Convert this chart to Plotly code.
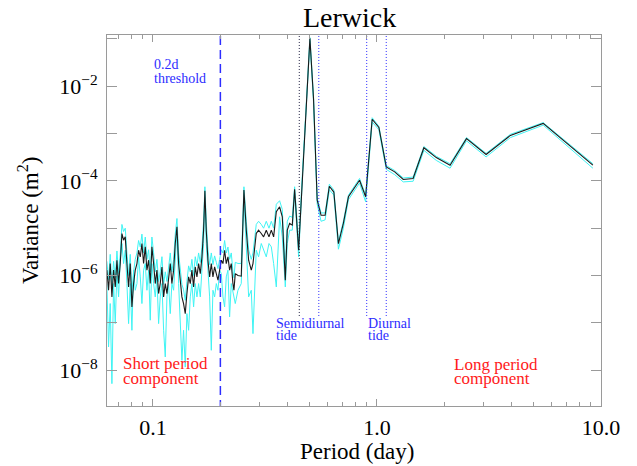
import plotly.graph_objects as go

# ---------------- data ----------------
period = [
    0.06229, 0.06338, 0.06447, 0.06561, 0.06674, 0.06789, 0.06908, 0.07026, 0.07148, 0.07272,
    0.07396, 0.07525, 0.07654, 0.07787, 0.07921, 0.08057, 0.08198, 0.08339, 0.08484, 0.08630,
    0.08780, 0.08931, 0.09085, 0.09243, 0.09402, 0.09565, 0.09730, 0.09897, 0.1007, 0.1024,
    0.1042, 0.1060, 0.1078, 0.1097, 0.1116, 0.1135, 0.1155, 0.1174, 0.1195, 0.1215,
    0.1237, 0.1258, 0.1280, 0.1302, 0.1324, 0.1347, 0.1370, 0.1394, 0.1418, 0.1443,
    0.1468, 0.1493, 0.1519, 0.1545, 0.1572, 0.1599, 0.1627, 0.1655, 0.1683, 0.1706,
    0.1730, 0.1760, 0.1791, 0.1822, 0.1853, 0.1885, 0.1918, 0.1951, 0.1985, 0.2019,
    0.2054, 0.2089, 0.2125, 0.2162, 0.2199, 0.2237, 0.2276, 0.2299, 0.2331, 0.2396,
    0.2479, 0.2548, 0.2611, 0.2674, 0.2748, 0.2796, 0.2892, 0.2962, 0.3045, 0.3119,
    0.3206, 0.3296, 0.3376, 0.3458, 0.3554, 0.3677, 0.3779, 0.3898, 0.3978, 0.4075,
    0.4188, 0.4290, 0.4470,
    0.468, 0.484, 0.502, 0.521, 0.541, 0.563, 0.587, 0.613, 0.642, 0.673,
    0.708, 0.746, 0.789, 0.836, 0.890, 0.952, 1.02, 1.10, 1.20, 1.31,
    1.45, 1.62, 1.84, 2.12, 2.51, 3.07, 3.94, 5.52, 9.20,
]

variance = [
    1.30e-6, 4.89e-7, 1.79e-6, 3.54e-7, 1.30e-6, 5.75e-7, 2.11e-6, 6.77e-7, 1.79e-6, 7.72e-6,
    5.58e-6, 6.56e-6, 1.79e-6, 5.75e-7, 1.79e-6, 2.18e-7, 6.77e-7, 1.30e-6, 1.79e-6, 3.43e-6,
    2.48e-6, 4.75e-6, 1.79e-6, 4.04e-6, 1.30e-6, 2.11e-6, 6.77e-7, 4.04e-6, 1.79e-6, 6.77e-7,
    1.30e-6, 4.16e-7, 6.77e-7, 1.52e-6, 3.54e-7, 6.77e-7, 4.16e-7, 9.37e-7, 1.79e-6, 6.77e-7,
    1.30e-6, 4.75e-6, 1.07e-5, 1.79e-6, 6.77e-7, 3.54e-7, 2.56e-7, 1.57e-7, 4.16e-7, 9.37e-7,
    6.77e-7, 1.30e-6, 5.75e-7, 1.52e-6, 9.37e-7, 1.79e-6, 1.10e-6, 2.48e-6, 9.08e-6, 6.17e-5,
    9.08e-6, 2.11e-6, 9.37e-7, 1.79e-6, 9.37e-7, 1.52e-6, 1.10e-6, 7.96e-7, 1.30e-6, 2.11e-6,
    1.79e-6, 3.43e-6, 1.79e-6, 2.48e-6, 1.30e-6, 1.79e-6, 6.77e-7, 4.89e-7, 1.10e-6, 1.00e-6,
    9.70e-7, 6.37e-5, 9.08e-6, 2.11e-6, 1.30e-6, 1.79e-6, 7.72e-6, 9.08e-6, 7.72e-6, 6.56e-6,
    9.08e-6, 6.56e-6, 9.08e-6, 6.56e-6, 2.22e-5, 2.83e-5, 1.74e-5, 7.96e-7, 9.08e-6, 1.26e-5,
    1.16e-5, 6.60e-5, 3.43e-6,
    2.6e-4, 4.0e-3, 1.02e-1, 5.4e-3, 3.9e-5, 1.87e-5, 1.87e-5, 7.7e-5, 5.8e-5, 4.7e-6,
    1.26e-5, 4.6e-5, 6.9e-5, 1.03e-4, 4.6e-5, 2.0e-3, 1.34e-3, 1.97e-4, 1.55e-4, 1.07e-4,
    1.12e-4, 5.0e-4, 3.1e-4, 2.14e-4, 7.8e-4, 3.6e-4, 9.1e-4, 1.63e-3, 2.14e-4,
]

variance_part_a = [
    2.0e-6, 8.0e-7, 2.8e-6, 6.0e-7, 2.0e-6, 9.0e-7, 3.3e-6, 1.1e-6, 2.8e-6, 1.2e-5,
    8.5e-6, 1.0e-5, 3.0e-6, 1.0e-6, 2.8e-6, 4.2e-7, 1.2e-6, 2.2e-6, 3.0e-6, 5.5e-6,
    4.0e-6, 7.5e-6, 3.0e-6, 6.5e-6, 2.2e-6, 3.5e-6, 1.2e-6, 6.5e-6, 3.0e-6, 1.2e-6,
    2.2e-6, 7.5e-7, 1.2e-6, 2.5e-6, 6.5e-7, 1.2e-6, 7.5e-7, 1.6e-6, 3.0e-6, 1.2e-6,
    2.2e-6, 7.5e-6, 1.6e-5, 3.0e-6, 1.2e-6, 6.5e-7, 5.0e-7, 3.0e-7, 7.5e-7, 1.6e-6,
    1.2e-6, 2.2e-6, 1.0e-6, 2.5e-6, 1.6e-6, 3.0e-6, 1.9e-6, 4.0e-6, 1.4e-5, 7.5e-5,
    1.4e-5, 3.5e-6, 1.7e-6, 3.0e-6, 1.7e-6, 2.6e-6, 1.9e-6, 1.4e-6, 2.2e-6, 3.5e-6,
    3.0e-6, 5.5e-6, 3.0e-6, 4.0e-6, 2.2e-6, 3.0e-6, 1.2e-6, 9.0e-7, 1.9e-6, 1.8e-6,
    1.8e-6, 7.5e-5, 1.4e-5, 3.5e-6, 2.2e-6, 3.0e-6, 1.2e-5, 1.4e-5, 1.2e-5, 1.0e-5,
    1.4e-5, 1.0e-5, 1.4e-5, 1.0e-5, 3.2e-5, 3.8e-5, 2.5e-5, 1.4e-6, 1.4e-5, 1.8e-5,
    1.7e-5, 7.5e-5, 5.0e-6,
    2.9e-4, 4.4e-3, 1.06e-1, 6.0e-3, 4.3e-5, 2.1e-5, 2.1e-5, 8.5e-5, 6.4e-5, 5.2e-6,
    1.4e-5, 5.0e-5, 7.5e-5, 1.12e-4, 5.0e-5, 2.15e-3, 1.42e-3, 2.1e-4, 1.65e-4, 1.15e-4,
    1.2e-4, 5.3e-4, 3.3e-4, 2.3e-4, 8.2e-4, 3.8e-4, 9.6e-4, 1.7e-3, 2.3e-4,
]

variance_part_b = [
    6.77e-7, 3.10e-8, 2.56e-7, 5.21e-9, 6.77e-7, 9.66e-8, 1.30e-6, 3.54e-7, 2.11e-6, 4.75e-6,
    1.79e-6, 3.43e-6, 6.77e-7, 9.66e-8, 6.77e-7, 6.98e-8, 1.30e-6, 4.89e-7, 6.77e-7, 2.48e-6,
    9.37e-7, 2.56e-7, 1.30e-6, 1.79e-6, 4.89e-7, 1.30e-6, 1.14e-7, 1.79e-6, 6.77e-7, 3.54e-7,
    9.37e-7, 9.66e-8, 3.54e-7, 6.77e-7, 6.98e-8, 1.91e-8, 3.54e-7, 6.77e-7, 1.57e-7, 6.77e-7,
    4.89e-7, 2.48e-6, 9.08e-6, 6.77e-7, 1.34e-7, 1.62e-8, 6.98e-8, 1.17e-8, 1.57e-7, 6.98e-8,
    3.54e-7, 6.77e-7, 2.18e-7, 6.77e-7, 3.54e-7, 6.77e-7, 3.54e-7, 1.30e-6, 4.75e-6, 4.61e-5,
    4.75e-6, 1.30e-6, 3.54e-7, 2.64e-8, 4.89e-7, 3.54e-7, 6.77e-7, 4.89e-7, 1.30e-6, 1.10e-6,
    3.54e-7, 2.18e-7, 9.37e-7, 1.30e-6, 1.34e-7, 6.77e-7, 4.16e-7, 3.54e-7, 2.56e-7, 4.89e-7,
    6.77e-7, 4.61e-5, 4.75e-6, 3.54e-7, 4.89e-7, 5.94e-8, 3.43e-6, 2.48e-6, 4.75e-6, 3.43e-6,
    2.48e-6, 4.75e-6, 4.04e-6, 1.79e-6, 5.75e-7, 1.74e-5, 6.56e-6, 5.75e-7, 4.75e-6, 9.08e-6,
    9.08e-6, 5.42e-5, 2.48e-6,
    2.2e-4, 3.4e-3, 9.0e-2, 4.6e-3, 3.2e-5, 1.4e-5, 1.5e-5, 6.5e-5, 5.0e-5, 3.6e-6,
    1.0e-5, 4.0e-5, 6.0e-5, 9.0e-5, 3.6e-5, 1.75e-3, 1.2e-3, 1.75e-4, 1.35e-4, 9.5e-5,
    9.8e-5, 4.4e-4, 2.7e-4, 1.85e-4, 7.0e-4, 3.2e-4, 8.2e-4, 1.5e-3, 1.85e-4,
]

threshold_period = 0.2
semidiurnal_band = [0.45, 0.55]
diurnal_band = [0.90, 1.10]

x_tick_vals = [0.1, 1, 10]
x_tick_text = ["0.1", "1.0", "10.0"]
x_minor_vals = [0.07, 0.08, 0.09, 0.2, 0.3, 0.4, 0.5, 0.6, 0.7, 0.8, 0.9,
                2, 3, 4, 5, 6, 7, 8, 9]
y_tick_vals = [1e-8, 1e-6, 1e-4, 1e-2]
y_tick_text = ["10<sup>−8</sup>", "10<sup>−6</sup>", "10<sup>−4</sup>", "10<sup>−2</sup>"]
y_minor_vals = [1e-7, 1e-5, 1e-3, 1e-1]

# ---------------- figure ----------------
FONT = "Liberation Serif, Times New Roman, Times, DejaVu Serif, serif"
BLUE = "#2d2dff"
RED = "#ff1a1a"
AXC = "#9a9a9a"

fig = go.Figure()
for series in (variance_part_b, variance_part_a):
    fig.add_trace(go.Scatter(x=period, y=series, mode="lines",
                             line=dict(color="#3ff4f4", width=1), hoverinfo="skip"))
fig.add_trace(go.Scatter(x=period, y=variance, mode="lines",
                         line=dict(color="#1a1a1a", width=1.1), hoverinfo="skip"))

# threshold (dashed) line
fig.add_trace(go.Scatter(x=[threshold_period, threshold_period], y=[1e-10, 1],
                         mode="lines", line=dict(color=BLUE, width=1.5, dash="9px,5px"),
                         hoverinfo="skip"))
# tidal band lines (dotted)
tide_colors = ["#222244", BLUE, BLUE, BLUE]
for c, p in zip(tide_colors, semidiurnal_band + diurnal_band):
    fig.add_trace(go.Scatter(x=[p, p], y=[1.4e-7, 1], mode="lines",
                             line=dict(color=c, width=1, dash="1px,2px"),
                             hoverinfo="skip"))

L, R, T, B = 107, 36, 35, 60
W, H = 637, 466
pw, ph = W - L - R, H - T - B


def px(xp):
    return (xp - L) / pw


def py(yp):
    return (H - B - yp) / ph


annos = [
    ("0.2d", 153, 65, BLUE, 14),
    ("threshold", 153, 79, BLUE, 14),
    ("Semidiurnal", 275, 323, BLUE, 14),
    ("tide", 275, 335, BLUE, 14),
    ("Diurnal", 366.5, 323, BLUE, 14),
    ("tide", 366.5, 335, BLUE, 14),
    ("Short period", 122, 363, RED, 17),
    ("component", 122, 378, RED, 17),
    ("Long period", 452.5, 364, RED, 17),
    ("component", 452.5, 378, RED, 17),
]
annotations = []
for text, xp, yp, col, size in annos:
    annotations.append(dict(text=text, x=px(xp), y=py(yp), xref="paper", yref="paper",
                            xanchor="left", yanchor="middle", showarrow=False,
                            borderpad=0, font=dict(family=FONT, size=size, color=col)))
# title and axis titles
annotations.append(dict(text="Lerwick", x=px(349), y=py(18), xref="paper", yref="paper",
                        xanchor="center", yanchor="middle", showarrow=False,
                        font=dict(family=FONT, size=28, color="black")))
annotations.append(dict(text="Period (day)", x=px(357), y=py(451), xref="paper", yref="paper",
                        xanchor="center", yanchor="middle", showarrow=False,
                        font=dict(family=FONT, size=23, color="black")))
annotations.append(dict(text="Variance (m<sup>2</sup>)", x=px(28), y=py(221),
                        xref="paper", yref="paper", textangle=-90,
                        xanchor="center", yanchor="middle", showarrow=False,
                        font=dict(family=FONT, size=23, color="black")))

fig.update_layout(
    width=W, height=H,
    margin=dict(l=L, r=R, t=T, b=B, autoexpand=False),
    paper_bgcolor="white", plot_bgcolor="white",
    showlegend=False,
    font=dict(family=FONT, size=21, color="black"),
    annotations=annotations,
)
fig.update_xaxes(
    type="log", range=[-1.205, 1.0], automargin=False,
    tickmode="array", tickvals=x_tick_vals, ticktext=x_tick_text,
    ticks="inside", ticklen=7, tickwidth=1, tickcolor=AXC,
    minor=dict(tickmode="array", tickvals=x_minor_vals, ticks="inside",
               ticklen=4, tickwidth=1, tickcolor=AXC, showgrid=False),
    showline=True, linecolor=AXC, linewidth=1, mirror="ticks",
    showgrid=False, zeroline=False, ticklabelstandoff=2,
    tickfont=dict(family=FONT, size=22),
)
fig.update_yaxes(
    type="log", range=[-8.755, -0.92], automargin=False,
    tickmode="array", tickvals=y_tick_vals, ticktext=y_tick_text,
    ticks="inside", ticklen=10, tickwidth=1, tickcolor=AXC,
    minor=dict(tickmode="array", tickvals=y_minor_vals, ticks="inside",
               ticklen=10, tickwidth=1, tickcolor=AXC, showgrid=False),
    showline=True, linecolor=AXC, linewidth=1, mirror="ticks",
    showgrid=False, zeroline=False, ticklabelstandoff=4,
    tickfont=dict(family=FONT, size=22),
)

fig.write_html("out.html", config={"displayModeBar": False},
               post_script="document.body.style.margin='0';")
